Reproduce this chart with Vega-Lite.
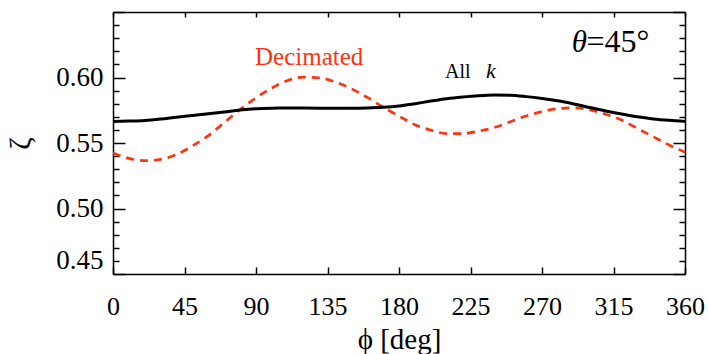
{
  "$schema": "https://vega.github.io/schema/vega-lite/v6.json",
  "width": 572,
  "height": 262,
  "autosize": {"type": "none"},
  "padding": {"left": 113, "top": 12, "right": 23, "bottom": 80},
  "background": "white",
  "config": {
    "view": {"stroke": null},
    "font": "Liberation Serif",
    "axis": {
      "labelFont": "Liberation Serif",
      "titleFont": "Liberation Serif",
      "labelColor": "black",
      "titleColor": "black",
      "domainColor": "black",
      "tickColor": "black",
      "domainWidth": 1.5,
      "tickWidth": 1.5,
      "grid": false,
      "labelFontWeight": "normal",
      "titleFontWeight": "normal"
    }
  },
  "datasets": {
    "curves": [
      {"series": "All k", "phi": 0, "zeta": 0.5664},
      {"series": "All k", "phi": 10, "zeta": 0.5667},
      {"series": "All k", "phi": 20, "zeta": 0.5672},
      {"series": "All k", "phi": 30, "zeta": 0.5683},
      {"series": "All k", "phi": 40, "zeta": 0.5697},
      {"series": "All k", "phi": 50, "zeta": 0.5710},
      {"series": "All k", "phi": 60, "zeta": 0.5723},
      {"series": "All k", "phi": 70, "zeta": 0.5737},
      {"series": "All k", "phi": 80, "zeta": 0.5752},
      {"series": "All k", "phi": 90, "zeta": 0.5762},
      {"series": "All k", "phi": 100, "zeta": 0.5766},
      {"series": "All k", "phi": 110, "zeta": 0.5767},
      {"series": "All k", "phi": 120, "zeta": 0.5767},
      {"series": "All k", "phi": 130, "zeta": 0.5766},
      {"series": "All k", "phi": 140, "zeta": 0.5765},
      {"series": "All k", "phi": 150, "zeta": 0.5765},
      {"series": "All k", "phi": 160, "zeta": 0.5767},
      {"series": "All k", "phi": 170, "zeta": 0.5772},
      {"series": "All k", "phi": 180, "zeta": 0.5782},
      {"series": "All k", "phi": 190, "zeta": 0.5800},
      {"series": "All k", "phi": 200, "zeta": 0.5820},
      {"series": "All k", "phi": 210, "zeta": 0.5838},
      {"series": "All k", "phi": 220, "zeta": 0.5851},
      {"series": "All k", "phi": 230, "zeta": 0.5861},
      {"series": "All k", "phi": 240, "zeta": 0.5866},
      {"series": "All k", "phi": 250, "zeta": 0.5864},
      {"series": "All k", "phi": 260, "zeta": 0.5854},
      {"series": "All k", "phi": 270, "zeta": 0.5840},
      {"series": "All k", "phi": 280, "zeta": 0.5822},
      {"series": "All k", "phi": 290, "zeta": 0.5798},
      {"series": "All k", "phi": 300, "zeta": 0.5771},
      {"series": "All k", "phi": 310, "zeta": 0.5745},
      {"series": "All k", "phi": 320, "zeta": 0.5722},
      {"series": "All k", "phi": 330, "zeta": 0.5700},
      {"series": "All k", "phi": 340, "zeta": 0.5684},
      {"series": "All k", "phi": 350, "zeta": 0.5673},
      {"series": "All k", "phi": 360, "zeta": 0.5665},
      {"series": "Decimated", "phi": 0, "zeta": 0.5424},
      {"series": "Decimated", "phi": 10, "zeta": 0.5383},
      {"series": "Decimated", "phi": 20, "zeta": 0.5365},
      {"series": "Decimated", "phi": 30, "zeta": 0.5375},
      {"series": "Decimated", "phi": 40, "zeta": 0.5412},
      {"series": "Decimated", "phi": 50, "zeta": 0.5478},
      {"series": "Decimated", "phi": 60, "zeta": 0.5556},
      {"series": "Decimated", "phi": 70, "zeta": 0.5656},
      {"series": "Decimated", "phi": 80, "zeta": 0.5755},
      {"series": "Decimated", "phi": 90, "zeta": 0.5845},
      {"series": "Decimated", "phi": 100, "zeta": 0.5920},
      {"series": "Decimated", "phi": 110, "zeta": 0.5977},
      {"series": "Decimated", "phi": 120, "zeta": 0.6003},
      {"series": "Decimated", "phi": 130, "zeta": 0.5998},
      {"series": "Decimated", "phi": 140, "zeta": 0.5965},
      {"series": "Decimated", "phi": 150, "zeta": 0.5915},
      {"series": "Decimated", "phi": 160, "zeta": 0.5848},
      {"series": "Decimated", "phi": 170, "zeta": 0.5774},
      {"series": "Decimated", "phi": 180, "zeta": 0.5705},
      {"series": "Decimated", "phi": 190, "zeta": 0.5640},
      {"series": "Decimated", "phi": 200, "zeta": 0.5598},
      {"series": "Decimated", "phi": 210, "zeta": 0.5572},
      {"series": "Decimated", "phi": 220, "zeta": 0.5572},
      {"series": "Decimated", "phi": 230, "zeta": 0.5590},
      {"series": "Decimated", "phi": 240, "zeta": 0.5618},
      {"series": "Decimated", "phi": 250, "zeta": 0.5662},
      {"series": "Decimated", "phi": 260, "zeta": 0.5706},
      {"series": "Decimated", "phi": 270, "zeta": 0.5740},
      {"series": "Decimated", "phi": 280, "zeta": 0.5762},
      {"series": "Decimated", "phi": 290, "zeta": 0.5768},
      {"series": "Decimated", "phi": 300, "zeta": 0.5753},
      {"series": "Decimated", "phi": 310, "zeta": 0.5720},
      {"series": "Decimated", "phi": 320, "zeta": 0.5675},
      {"series": "Decimated", "phi": 330, "zeta": 0.5611},
      {"series": "Decimated", "phi": 340, "zeta": 0.5548},
      {"series": "Decimated", "phi": 350, "zeta": 0.5485},
      {"series": "Decimated", "phi": 360, "zeta": 0.5430}
    ]
  },
  "layer": [
    {
      "data": {"name": "curves"},
      "transform": [{"filter": "datum.series === 'Decimated'"}],
      "mark": {"type": "line", "color": "#ff3311", "strokeWidth": 2.7, "strokeDash": [8, 6], "interpolate": "monotone"},
      "encoding": {
        "x": {
          "field": "phi", "type": "quantitative",
          "scale": {"domain": [0, 360], "nice": false, "zero": false},
          "axis": {
            "orient": "bottom",
            "values": [0, 45, 90, 135, 180, 225, 270, 315, 360],
            "format": "d",
            "tickSize": -7,
            "labelFontSize": 26,
            "labelPadding": 26,
            "labelFlush": false,
            "labelOverlap": false,
            "labelBound": false,
            "title": "ϕ [deg]",
            "titleFontSize": 29,
            "titlePadding": 6
          }
        },
        "y": {
          "field": "zeta", "type": "quantitative",
          "scale": {"domain": [0.45, 0.65], "nice": false, "zero": false},
          "axis": {
            "orient": "left",
            "values": [0.45, 0.46, 0.47, 0.48, 0.49, 0.5, 0.51, 0.52, 0.53, 0.54, 0.55, 0.56, 0.57, 0.58, 0.59, 0.6, 0.61, 0.62, 0.63, 0.64, 0.65],
            "format": ".2f",
            "labelExpr": "(datum.value < 0.605 && round(datum.value * 100) % 5 === 0) ? datum.label : ''",
            "tickSize": {"condition": {"test": "round(datum.value * 100) % 5 === 0", "value": -12}, "value": -6},
            "labelFontSize": 27,
            "labelPadding": 22,
            "labelFlush": true,
            "labelOverlap": false,
            "labelBound": false,
            "title": "ζ",
            "titleFontSize": 30,
            "titlePadding": 20
          }
        }
      }
    },
    {
      "data": {"name": "curves"},
      "transform": [{"filter": "datum.series === 'All k'"}],
      "mark": {"type": "line", "color": "black", "strokeWidth": 3, "interpolate": "monotone"},
      "encoding": {
        "x": {
          "field": "phi", "type": "quantitative",
          "axis": {
            "orient": "top",
            "values": [0, 45, 90, 135, 180, 225, 270, 315, 360],
            "tickSize": -5,
            "labels": false,
            "title": null
          }
        },
        "y": {
          "field": "zeta", "type": "quantitative",
          "axis": {
            "orient": "right",
            "values": [0.45, 0.46, 0.47, 0.48, 0.49, 0.5, 0.51, 0.52, 0.53, 0.54, 0.55, 0.56, 0.57, 0.58, 0.59, 0.6, 0.61, 0.62, 0.63, 0.64, 0.65],
            "tickSize": {"condition": {"test": "round(datum.value * 100) % 5 === 0", "value": -12}, "value": -6},
            "labels": false,
            "title": null
          }
        }
      }
    },
    {
      "data": {"values": [{"phi": 89.4, "zeta": 0.6093, "text": "Decimated"}]},
      "mark": {"type": "text", "align": "left", "baseline": "alphabetic", "font": "Liberation Serif", "fontSize": 25, "color": "#ff3311"},
      "encoding": {
        "x": {"field": "phi", "type": "quantitative", "axis": null},
        "y": {"field": "zeta", "type": "quantitative", "axis": null},
        "text": {"field": "text"}
      }
    },
    {
      "data": {"values": [{"phi": 209, "zeta": 0.5995, "text": "All"}]},
      "mark": {"type": "text", "align": "left", "baseline": "alphabetic", "font": "Liberation Serif", "fontSize": 20, "color": "black"},
      "encoding": {
        "x": {"field": "phi", "type": "quantitative", "axis": null},
        "y": {"field": "zeta", "type": "quantitative", "axis": null},
        "text": {"field": "text"}
      }
    },
    {
      "data": {"values": [{"phi": 234.8, "zeta": 0.5995, "text": "k"}]},
      "mark": {"type": "text", "align": "left", "baseline": "alphabetic", "font": "Liberation Serif", "fontSize": 22, "fontStyle": "italic", "color": "black"},
      "encoding": {
        "x": {"field": "phi", "type": "quantitative", "axis": null},
        "y": {"field": "zeta", "type": "quantitative", "axis": null},
        "text": {"field": "text"}
      }
    },
    {
      "data": {"values": [{"phi": 288.7, "zeta": 0.6194, "text": "θ"}]},
      "mark": {"type": "text", "align": "left", "baseline": "alphabetic", "font": "Liberation Serif", "fontSize": 31, "fontStyle": "italic", "color": "black"},
      "encoding": {
        "x": {"field": "phi", "type": "quantitative", "axis": null},
        "y": {"field": "zeta", "type": "quantitative", "axis": null},
        "text": {"field": "text"}
      }
    },
    {
      "data": {"values": [{"phi": 298, "zeta": 0.6194, "text": "=45°"}]},
      "mark": {"type": "text", "align": "left", "baseline": "alphabetic", "font": "Liberation Serif", "fontSize": 32, "color": "black"},
      "encoding": {
        "x": {"field": "phi", "type": "quantitative", "axis": null},
        "y": {"field": "zeta", "type": "quantitative", "axis": null},
        "text": {"field": "text"}
      }
    }
  ],
  "resolve": {"axis": {"x": "independent", "y": "independent"}}
}
